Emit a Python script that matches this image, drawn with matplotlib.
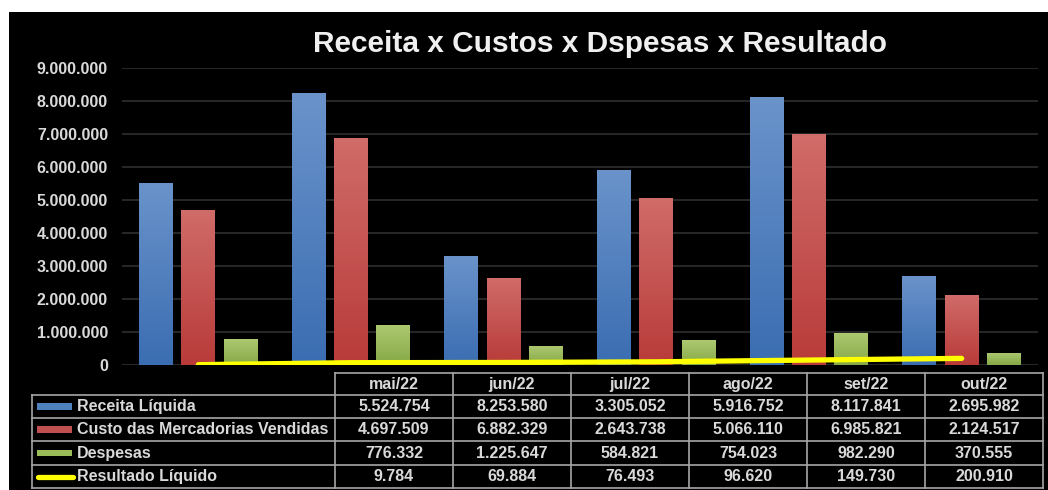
import matplotlib
matplotlib.use("Agg")
import matplotlib.pyplot as plt
import numpy as np
from matplotlib.patches import Rectangle
from matplotlib.colors import LinearSegmentedColormap
from matplotlib.lines import Line2D

months = ["mai/22", "jun/22", "jul/22", "ago/22", "set/22", "out/22"]
series_names = ["Receita Líquida", "Custo das Mercadorias Vendidas", "Despesas", "Resultado Líquido"]
receita = [5524754, 8253580, 3305052, 5916752, 8117841, 2695982]
custo = [4697509, 6882329, 2643738, 5066110, 6985821, 2124517]
despesas = [776332, 1225647, 584821, 754023, 982290, 370555]
resultado = [9784, 69884, 76493, 96620, 149730, 200910]
yticks = [0, 1000000, 2000000, 3000000, 4000000, 5000000, 6000000, 7000000, 8000000, 9000000]
title = "Receita x Custos x Dspesas x Resultado"

plt.rcParams['font.family'] = ['Liberation Sans', 'DejaVu Sans']

W, H = 1048, 490
fig = plt.figure(figsize=(W / 100, H / 100), dpi=100, facecolor="white")
fig.patches.append(Rectangle((9 / W, 0), (W - 9) / W, (H - 12) / H,
                             transform=fig.transFigure, facecolor="black",
                             edgecolor="none", zorder=-10))

def fx(px):
    return px / W

def fy(py):
    return 1 - py / H

ax = fig.add_axes([fx(122), fy(365), fx(1038) - fx(122), fy(68) - fy(365)])
ax.set_facecolor("none")

txt_col = "#d9d9d9"
grads = [("#6a93ca", "#3b6db2"), ("#d06c69", "#b83b39"), ("#adc971", "#86a846")]
solid = ["#4f81bd", "#c0504d", "#9bbb59"]
x = np.arange(len(months))
width = 0.222
offs = [-0.278, 0.0, 0.278]
data = [receita, custo, despesas]

for vals, off, (ctop, cbot), sc in zip(data, offs, grads, solid):
    bars = ax.bar(x + off, vals, width=width, color=sc, zorder=2,
                  edgecolor="none")
    cmap = LinearSegmentedColormap.from_list("g", [cbot, ctop])
    grad = np.linspace(1, 0, 256).reshape(-1, 1)
    for b in bars:
        bx, by = b.get_x(), b.get_y()
        bw, bh = b.get_width(), b.get_height()
        im = ax.imshow(grad, cmap=cmap, extent=[bx, bx + bw, by, by + bh],
                       aspect="auto", zorder=3, interpolation="bilinear")
        im.set_clip_path(b)

ax.plot(x, resultado, color="#ffff00", lw=3.8, solid_capstyle="round", zorder=5)

ax.set_xlim(-0.5, len(months) - 0.5)
ax.set_ylim(0, 9000000)
ax.set_yticks(yticks)
ax.set_yticklabels([f"{v:,}".replace(",", ".") for v in yticks],
                   color=txt_col, fontsize=11.5, fontweight="bold")
ax.tick_params(axis="y", length=0, pad=10)
ax.set_xticks([])
ax.grid(axis="y", color="#262626", lw=1.5, zorder=0)
ax.set_axisbelow(True)
for s in ax.spines.values():
    s.set_visible(False)

fig.text(fx(600), fy(44), title, ha="center", va="center", color="#f0f0f0",
         fontsize=21.5, fontweight="bold")

# data table
axt = fig.add_axes([0, 0, 1, 1])
axt.set_facecolor("none")
axt.set_xlim(0, W)
axt.set_ylim(H, 0)
axt.axis("off")

bc = "#a6a6a6"
blw = 1.2
lab_l, col0 = 32, 335
colw = 118
cols = [col0 + i * colw for i in range(len(months) + 1)]
rows = [373, 395, 418, 441, 465, 488]

axt.plot([col0, cols[-1]], [rows[0], rows[0]], color=bc, lw=blw)
for r in rows[1:]:
    axt.plot([lab_l, cols[-1]], [r, r], color=bc, lw=blw)
for c in cols:
    axt.plot([c, c], [rows[0], rows[-1]], color=bc, lw=blw)
axt.plot([lab_l, lab_l], [rows[1], rows[-1]], color=bc, lw=blw)

fs = 11.5
for i, m in enumerate(months):
    cx = (cols[i] + cols[i + 1]) / 2
    axt.text(cx, (rows[0] + rows[1]) / 2, m, ha="center", va="center",
             color=txt_col, fontsize=fs, fontweight="bold")

all_series = [receita, custo, despesas, resultado]
for j, (name, vals) in enumerate(zip(series_names, all_series)):
    cy = (rows[j + 1] + rows[j + 2]) / 2
    if j < 3:
        axt.add_patch(Rectangle((37, cy - 3.2), 35, 6.4, facecolor=solid[j],
                                edgecolor="none"))
    else:
        axt.add_line(Line2D([38, 73], [cy, cy], color="#ffff00", lw=3.8,
                            solid_capstyle="round"))
    axt.text(77, cy, name, ha="left", va="center", color=txt_col,
             fontsize=fs, fontweight="bold")
    for i, v in enumerate(vals):
        cx = (cols[i] + cols[i + 1]) / 2
        axt.text(cx, cy, f"{v:,}".replace(",", "."), ha="center", va="center",
                 color=txt_col, fontsize=fs, fontweight="bold")

fig.savefig("out.png", dpi=100, facecolor="white")
